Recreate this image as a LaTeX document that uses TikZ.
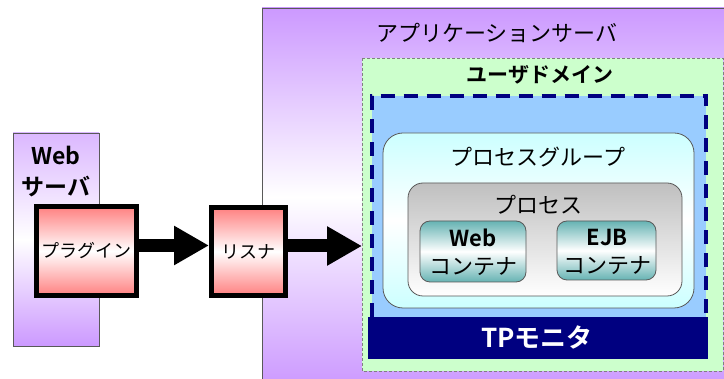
\documentclass[tikz,border=0pt]{standalone}
\usepackage{fontspec}
\setmainfont{Noto Sans CJK JP}[BoldFont={Noto Sans CJK JP Bold}]
\usetikzlibrary{arrows.meta,positioning}
\definecolor{lila}{HTML}{CC99FF}
\definecolor{rosa}{HTML}{FF8080}
\definecolor{mint}{HTML}{CCFFCC}
\definecolor{hellblau}{HTML}{99CCFF}
\definecolor{marine}{HTML}{000080}
\definecolor{cyanhell}{HTML}{CCFFFF}
\definecolor{petrol}{HTML}{66B3B3}
\begin{document}
\begin{tikzpicture}[x=1pt,y=-1pt,
        box/.style = {draw=black!65,line width=.8pt},
        rot/.style = {draw=black,line width=5pt,top color=rosa,bottom color=rosa,middle color=white,inner sep=0pt,font=\fontsize{18}{20}\selectfont},
        pfeil/.style = {line width=13pt,-{Triangle[length=35pt,width=37pt]}},
        titel/.style = {font=\fontsize{22}{26}\selectfont},
        fett/.style = {font=\fontsize{22}{26}\selectfont\bfseries}
        ]
        \useasboundingbox (0,0) rectangle (724,379);
        \clip (0,0) rectangle (724,379);

        %Anwendungsserver
        \draw[box,top color=lila,bottom color=lila,middle color=white] (262,8) rectangle (740,386);
        \node[titel] (apptitel) at (497,33) {アプリケーションサーバ};

        %Benutzerdomaene
        \draw[draw=black!50,line width=.8pt,dash pattern=on 3pt off 2pt,fill=mint] (362,58) coordinate (ud) rectangle (723,371);
        \node[fett,font=\fontsize{21}{24}\selectfont\bfseries] (udtitel) at (540,75) {ユーザドメイン};

        %TP-Monitor
        \fill[hellblau] (371.5,96) rectangle (706,340);
        \draw[marine,line width=4pt,dash pattern=on 14pt off 9pt] (371.5,340) -- (371.5,96) -- (706,96) -- (706,340);
        \fill[marine] (368,317) rectangle (708,359);
        \node[text=white,font=\fontsize{26}{28}\selectfont\bfseries] (tp) at (537,337) {TPモニタ};

        %Prozessgruppe
        \draw[box,rounded corners=20pt,top color=cyanhell,bottom color=cyanhell,middle color=white] (383,133) rectangle (694,308);
        \node[titel] (pgtitel) at (538,157) {プロセスグループ};

        %Prozess
        \draw[box,rounded corners=15pt,top color=black!25,bottom color=white] (408,183) rectangle (682,296);
        \node[titel] (ptitel) at (538,205) {プロセス};

        %Container
        \draw[box,rounded corners=10pt,top color=petrol,bottom color=petrol,middle color=white] (420,221) rectangle (526,282);
        \draw[box,rounded corners=10pt,top color=petrol,bottom color=petrol,middle color=white] (557,221) rectangle (656,280);
        \node[fett] (webc) at (473,238) {Web};
        \node[titel] (webc2) at (473,267) {コンテナ};
        \node[fett] (ejbc) at (607,238) {EJB};
        \node[titel] (ejbc2) at (607,266) {コンテナ};

        %Webserver
        \draw[box,top color=lila!70!white,bottom color=lila,middle color=white] (13,133) rectangle (99,346);
        \node[fett,font=\fontsize{23}{26}\selectfont\bfseries] (ws1) at (56,155) {Web};
        \node[fett,font=\fontsize{23}{26}\selectfont\bfseries] (ws2) at (56,187) {サーバ};

        %Plugin und Listener
        \node[rot,minimum width=100pt,minimum height=89pt] (plugin) at (86.5,251) {プラグイン};
        \node[rot,minimum width=74pt,minimum height=88pt] (listener) at (248.5,251.5) {リスナ};

        %Pfeile
        \draw[pfeil] ([yshift=5.5pt]plugin.east) coordinate (p1) -- (listener.west |- p1);
        \draw[pfeil] ([yshift=5.5pt]listener.east) coordinate (p2) -- (ud |- p2);

    \end{tikzpicture}
\end{document}
